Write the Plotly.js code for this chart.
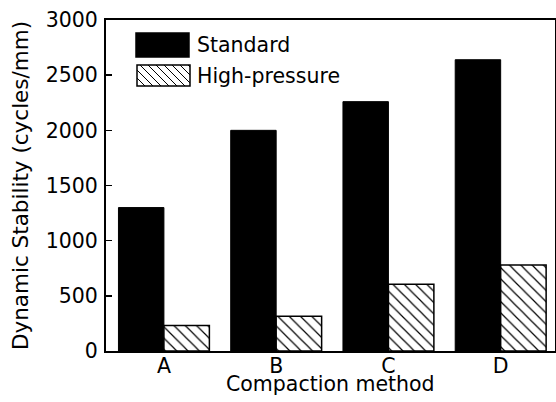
<!DOCTYPE html>
<html>
<head>
<meta charset="utf-8">
<script src="https://cdn.plot.ly/plotly-3.0.1.min.js"></script>
<style>html,body{margin:0;padding:0;background:#fff;}#chart{width:556px;height:402px;}</style>
</head>
<body>
<div id="chart"></div>
<script>
const categories = ['A', 'B', 'C', 'D'];
const standard = [1300, 2000, 2260, 2640];
const highPressure = [230, 315, 605, 780];
const seriesNames = ['Standard', 'High-pressure'];
const yTicks = [0, 500, 1000, 1500, 2000, 2500, 3000];
const xTitle = 'Compaction method';
const yTitle = 'Dynamic Stability (cycles/mm)';

const W = 556, H = 402;
const M = {l: 106, r: 1, t: 20, b: 51};
const pw = W - M.l - M.r, ph = H - M.t - M.b;
const px = x => (x - M.l) / pw;
const py = y => (H - M.b - y) / ph;

const FONT = 'DejaVu Sans, sans-serif';
const FS = 20.5;

const traces = [
  {type: 'bar', name: seriesNames[0], x: categories, y: standard,
   marker: {color: '#000', line: {color: '#000', width: 1}}},
  {type: 'bar', name: seriesNames[1], x: categories, y: highPressure,
   marker: {color: '#fff', line: {color: '#000', width: 1.5},
            pattern: {shape: '\\', fgcolor: '#000', bgcolor: '#fff', size: 8, solidity: 0.15}}}
];

// legend drawn as shapes
const shapes = [];
const annotations = [];
function box(x0, y0, x1, y1, fill) {
  shapes.push({type: 'rect', xref: 'paper', yref: 'paper', x0: px(x0), x1: px(x1), y0: py(y1), y1: py(y0),
    fillcolor: fill, line: {color: '#000', width: 1.5}});
}
box(136, 33, 189, 57, '#000');
box(137, 65, 190, 86, '#fff');
(function(){
  const x0 = 137, y0 = 65, x1 = 190, y1 = 86, step = 8;
  let d = '';
  for (let c = -(y1 - y0); c < (x1 - x0); c += step) {
    let ax = x0 + c, ay = y0;
    if (ax < x0) { ay = y0 + (x0 - ax); ax = x0; }
    let bx = x0 + c + (y1 - y0), by = y1;
    if (bx > x1) { by = y1 - (bx - x1); bx = x1; }
    if (ay >= y1 || by <= y0) continue;
    d += 'M' + px(ax) + ',' + py(ay) + 'L' + px(bx) + ',' + py(by);
  }
  shapes.push({type: 'path', xref: 'paper', yref: 'paper', path: d, line: {color: '#000', width: 1}});
})();
annotations.push({xref: 'paper', yref: 'paper', x: px(195), y: py(45), xanchor: 'left', yanchor: 'middle',
  text: seriesNames[0], showarrow: false, font: {family: FONT, size: FS, color: '#000'}});
annotations.push({xref: 'paper', yref: 'paper', x: px(195), y: py(76), xanchor: 'left', yanchor: 'middle',
  text: seriesNames[1], showarrow: false, font: {family: FONT, size: FS, color: '#000'}});
// x-axis title placed tight under the tick labels, as in the reference
annotations.push({xref: 'paper', yref: 'paper', x: 0.5, y: py(384), xanchor: 'center', yanchor: 'middle',
  text: xTitle, showarrow: false, font: {family: FONT, size: FS, color: '#000'}});

const layout = {
  width: W, height: H,
  margin: M,
  paper_bgcolor: '#fff', plot_bgcolor: '#fff',
  showlegend: false,
  barmode: 'group', bargap: 0.19, bargroupgap: 0,
  font: {family: FONT, size: FS, color: '#000'},
  xaxis: {
    type: 'category', range: [-0.516, 3.484],
    showline: true, linecolor: '#000', linewidth: 2, mirror: true,
    showgrid: false, zeroline: false, ticks: '',
    ticklabelstandoff: -5,
    tickfont: {family: FONT, size: FS, color: '#000'}
  },
  yaxis: {
    range: [0, 3000], tickvals: yTicks, ticktext: yTicks.map(String),
    showline: true, linecolor: '#000', linewidth: 2, mirror: true,
    showgrid: false, zeroline: false,
    ticks: 'inside', ticklen: 6, tickwidth: 1.5, tickcolor: '#000',
    ticklabelstandoff: 2,
    tickfont: {family: FONT, size: FS, color: '#000'},
    title: {text: yTitle, font: {family: FONT, size: 21.5, color: '#000'}, standoff: 11}
  },
  shapes: shapes,
  annotations: annotations
};

Plotly.newPlot('chart', traces, layout, {displayModeBar: false, staticPlot: true});
</script>
</body>
</html>
